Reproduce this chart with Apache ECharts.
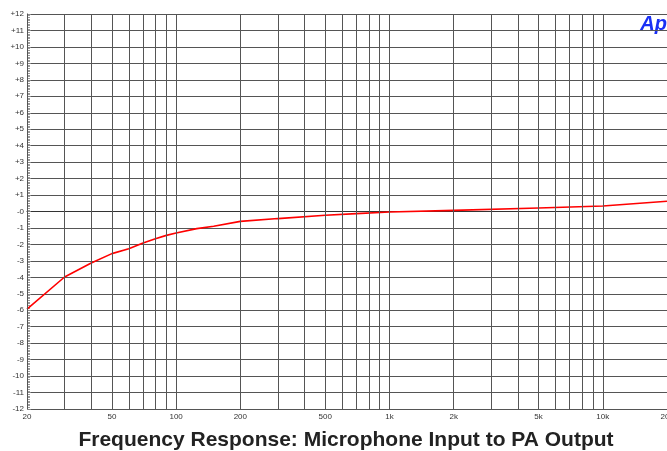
<!DOCTYPE html>
<html>
<head>
<meta charset="utf-8">
<script src="https://cdn.jsdelivr.net/npm/echarts@6/dist/echarts.min.js"></script>
<style>
  html, body { margin: 0; padding: 0; background: #fff; }
  #chart { width: 667px; height: 451px; }
</style>
</head>
<body>
<div id="chart"></div>
<script>
(function () {

  // 频率 (Hz) 与电平 (dB)
  var freqs = [20, 30, 40, 50, 60, 70, 80, 90, 100, 125, 150, 200, 300, 500, 700, 1000, 2000, 5000, 10000, 20000];
  var levels = [-5.93, -3.98, -3.13, -2.56, -2.26, -1.91, -1.65, -1.45, -1.31, -1.04, -0.9, -0.6, -0.43, -0.23, -0.13, -0.03, 0.07, 0.21, 0.33, 0.62];

  // 竖向网格线
  var gridFreqs = [20, 30, 40, 50, 60, 70, 80, 90, 100, 200, 300, 400, 500, 600, 700, 800, 900,
    1000, 2000, 3000, 4000, 5000, 6000, 7000, 8000, 9000, 10000, 20000];
  var tickFreqs = [20, 50, 100, 200, 500, 1000, 2000, 5000, 10000, 20000];
  var tickLabels = ['20', '50', '100', '200', '500', '1k', '2k', '5k', '10k', '20k'];

  var chart = echarts.init(document.getElementById('chart'));

  var lineData = [];
  for (var i = 0; i < freqs.length; i++) {
    lineData.push([freqs[i], levels[i]]);
  }

  var gridLines = gridFreqs.map(function (f) {
    var k = tickFreqs.indexOf(f);
    return {
      xAxis: f,
      label: { show: k >= 0, formatter: k >= 0 ? tickLabels[k] : '' }
    };
  });

  var font = 'Liberation Sans, Arial, sans-serif';

  var option = {
    animation: false,
    title: {
      text: 'Frequency Response: Microphone Input to PA Output',
      left: 341,
      top: 425,
      textAlign: 'center',
      textStyle: { fontFamily: font, fontSize: 21, fontWeight: 'bold', color: '#222' }
    },
    graphic: [{
      type: 'text',
      right: 0,
      top: 14,
      style: {
        text: 'Ap',
        font: 'italic bold 20px ' + font,
        fill: '#1a30f5'
      }
    }],
    grid: { left: 27, right: -2, top: 14, bottom: 42 },
    xAxis: {
      type: 'log',
      logBase: 10,
      min: 20,
      max: 20000,
      axisLine: { show: true, lineStyle: { color: '#333' } },
      axisTick: { show: false },
      axisLabel: { show: false },
      splitLine: { show: false }
    },
    yAxis: {
      type: 'value',
      min: -12,
      max: 12,
      interval: 1,
      axisLine: { show: true, lineStyle: { color: '#333' } },
      axisTick: { show: true, inside: true, length: 4, lineStyle: { color: '#888' } },
      minorTick: { show: true, splitNumber: 10, length: 3, lineStyle: { color: '#999' } },
      axisLabel: {
        fontFamily: font,
        fontSize: 8,
        color: '#333',
        margin: 3,
        formatter: function (v) {
          if (v > 0) return '+' + v;
          if (v === 0) return '-0';
          return String(v);
        }
      },
      splitLine: { show: true, lineStyle: { color: '#555', width: 1 } }
    },
    series: [{
      type: 'line',
      data: [],
      z: 1,
      markLine: {
        silent: true,
        symbol: ['none', 'none'],
        animation: false,
        lineStyle: { color: '#555', width: 1, type: 'solid' },
        label: {
          position: 'start',
          distance: 4,
          fontFamily: font,
          fontSize: 8,
          color: '#333'
        },
        emphasis: { disabled: true },
        data: gridLines
      }
    }, {
      type: 'line',
      data: lineData,
      z: 3,
      showSymbol: false,
      symbol: 'none',
      lineStyle: { color: '#ff0000', width: 1.6 },
      silent: true
    }]
  };

  chart.setOption(option);
})();
</script>
</body>
</html>
